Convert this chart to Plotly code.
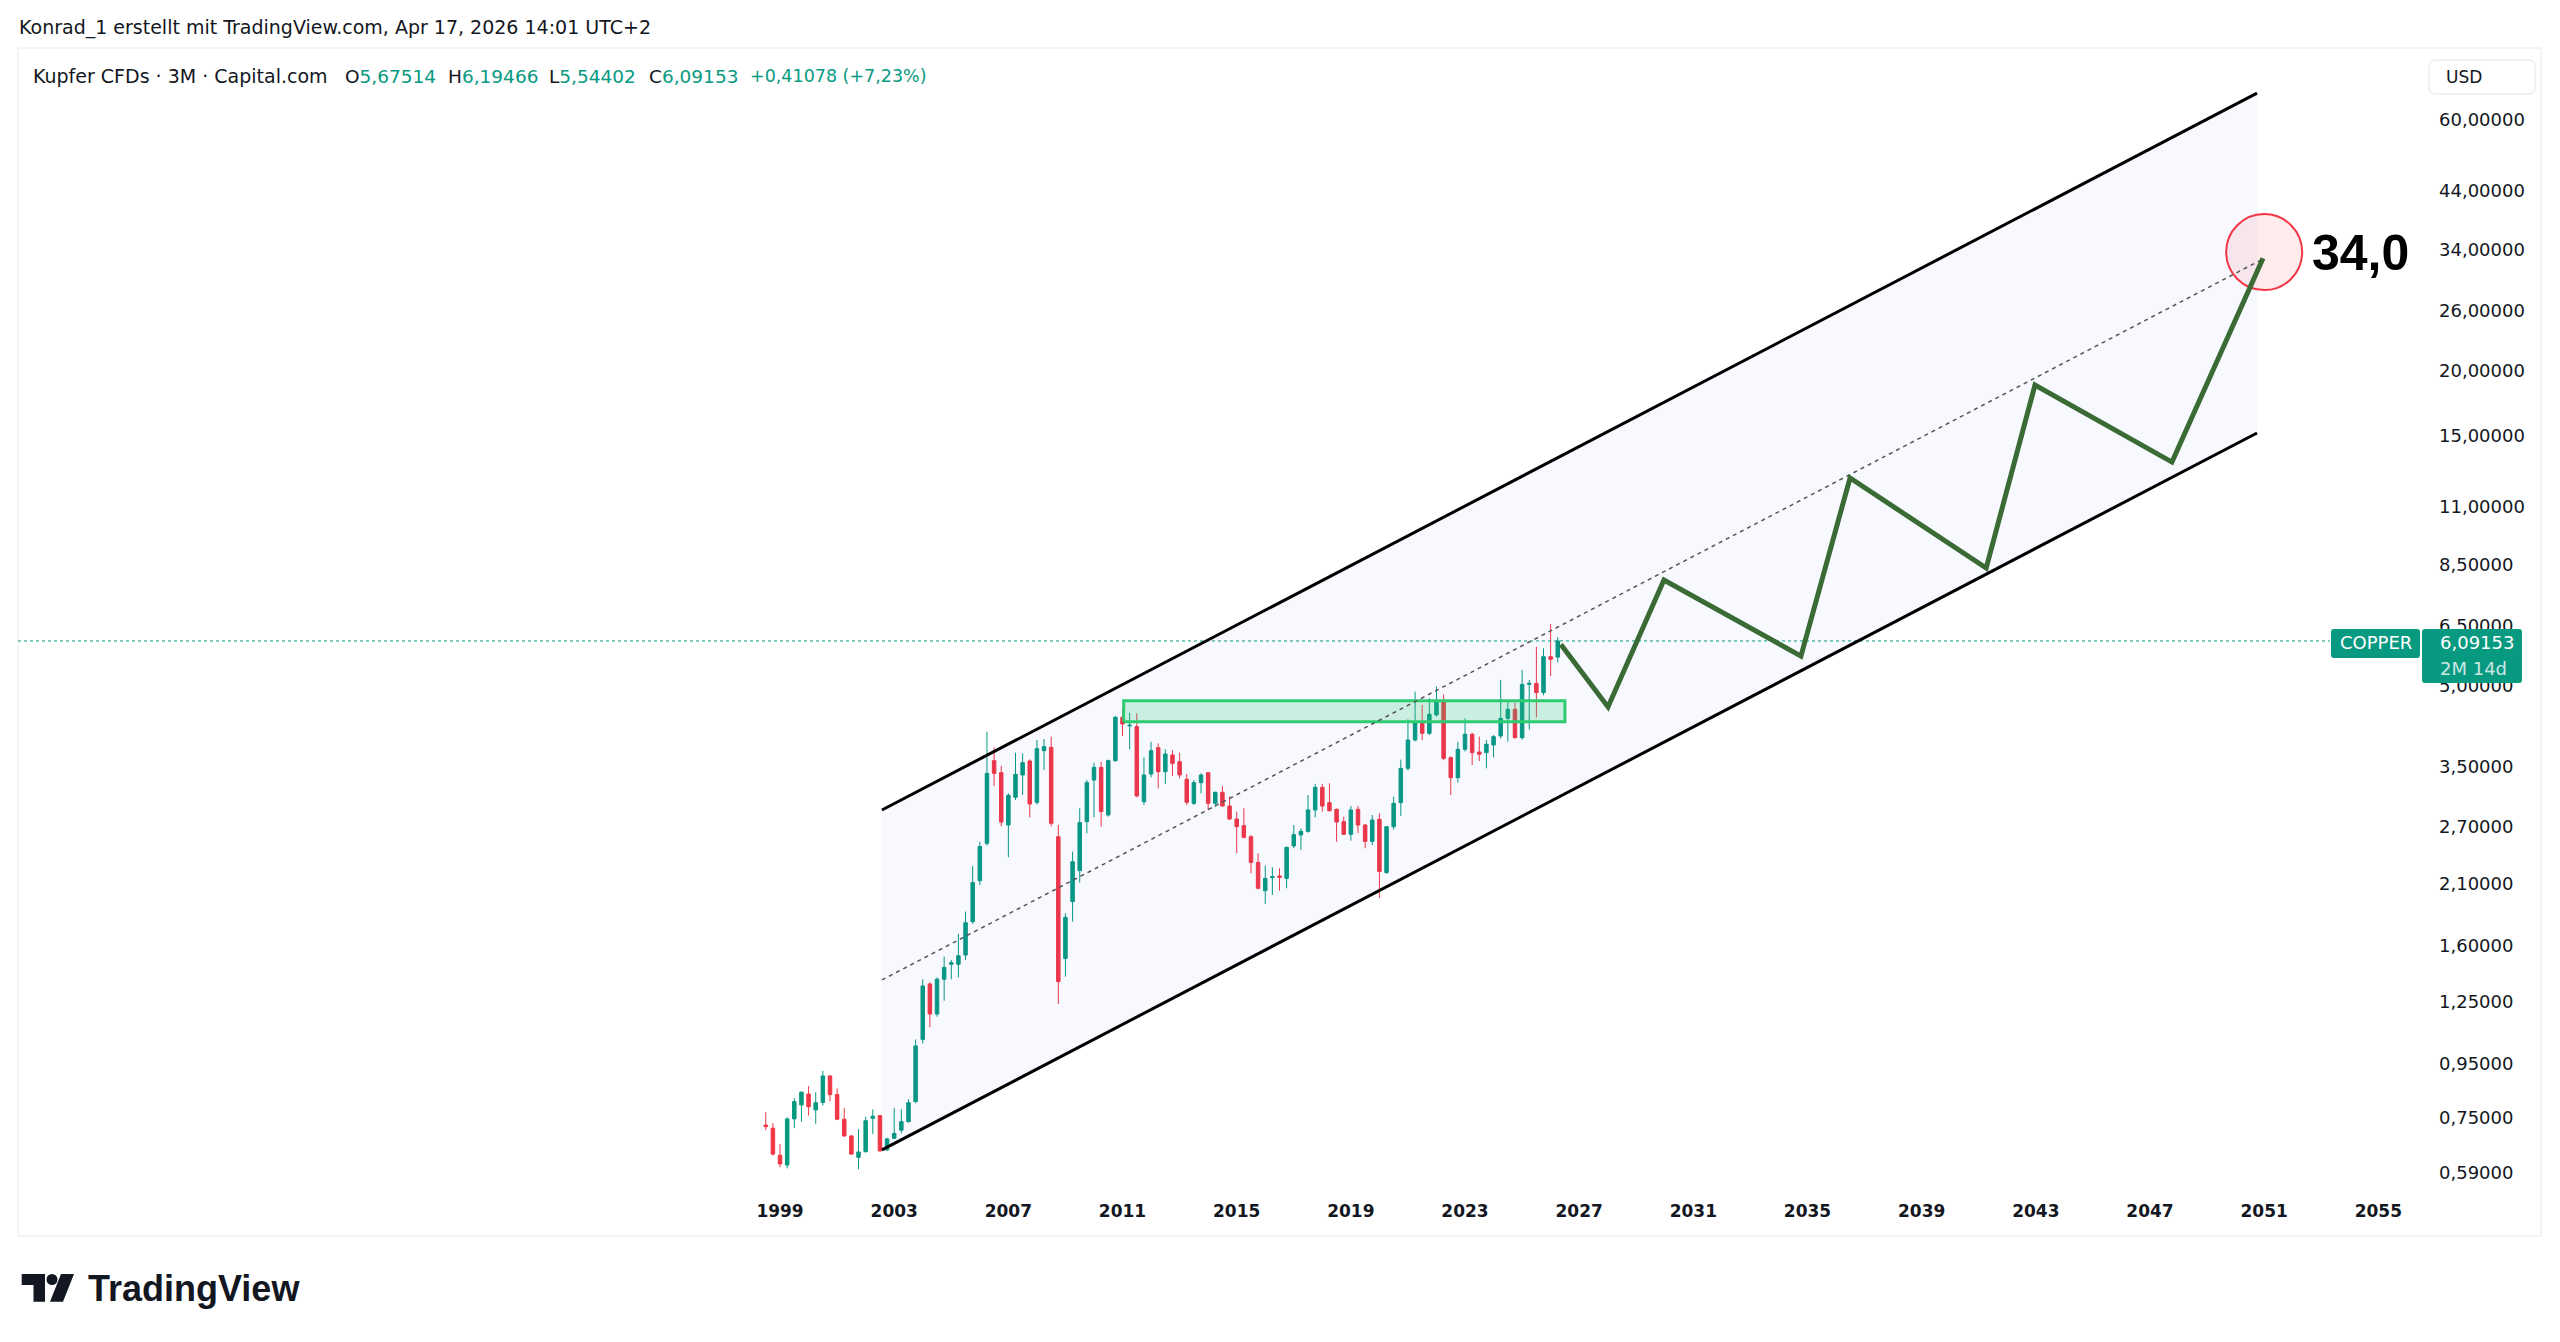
import plotly.graph_objects as go
import math

W, H = 2560, 1342

# ---------------- data (quarterly candles, Kupfer CFDs, 3M) ----------------
FIRST_QUARTER = 1998.5          # Q3 1998
QUARTER_STEP = 0.25
OPEN = [0.727, 0.717, 0.637, 0.610, 0.747, 0.794, 0.833, 0.777, 0.803, 0.902,
        0.831, 0.746, 0.693, 0.631, 0.647, 0.749, 0.758, 0.652, 0.686, 0.711,
        0.738, 0.806, 1.059, 1.351, 1.184, 1.379, 1.473, 1.473, 1.534, 1.776,
        2.127, 2.505, 3.601, 3.416, 2.715, 3.066, 3.382, 3.596, 2.999, 3.763,
        3.818, 2.579, 1.511, 1.940, 2.222, 2.755, 3.308, 3.497, 2.837, 3.601,
        4.357, 4.195, 4.182, 3.008, 3.396, 3.813, 3.431, 3.692, 3.585, 3.318,
        2.986, 3.270, 3.416, 2.986, 3.134, 2.951, 2.787, 2.707, 2.579, 2.304,
        2.035, 2.154, 2.170, 2.148, 2.476, 2.598, 2.640, 2.900, 3.203, 2.995,
        2.908, 2.755, 2.606, 2.908, 2.715, 2.526, 2.783, 2.203, 2.695, 2.995,
        3.482, 3.943, 4.256, 4.061, 4.402, 4.680, 3.649, 3.342, 3.785, 4.043,
        3.741, 3.730, 3.858, 4.014, 4.336, 4.512, 3.984, 5.034, 5.056, 4.855,
        5.685, 5.67514]
HIGH = [0.769, 0.733, 0.669, 0.752, 0.818, 0.842, 0.863, 0.840, 0.922, 0.905,
        0.854, 0.783, 0.696, 0.714, 0.754, 0.779, 0.759, 0.688, 0.783, 0.779,
        0.814, 1.059, 1.379, 1.360, 1.391, 1.523, 1.501, 1.683, 1.856, 2.268,
        2.522, 4.090, 3.818, 3.518, 3.120, 3.730, 3.719, 3.622, 3.943, 3.960,
        4.001, 2.715, 1.842, 2.415, 2.922, 3.308, 3.569, 3.585, 3.617, 4.383,
        4.532, 4.445, 4.432, 3.654, 3.914, 3.886, 3.785, 3.770, 3.730, 3.396,
        3.308, 3.406, 3.420, 3.143, 3.222, 3.075, 2.879, 2.922, 2.598, 2.398,
        2.272, 2.255, 2.245, 2.470, 2.715, 2.675, 3.097, 3.251, 3.251, 3.260,
        2.920, 2.816, 2.951, 2.951, 2.727, 2.837, 2.858, 2.700, 3.075, 3.617,
        4.319, 4.875, 4.599, 4.735, 4.984, 4.818, 3.670, 3.914, 4.336, 4.070,
        4.002, 3.943, 4.030, 5.132, 4.699, 4.646, 5.363, 5.132, 5.941, 5.898,
        6.562, 6.19466]
LOW = [0.711, 0.636, 0.604, 0.601, 0.717, 0.738, 0.758, 0.731, 0.792, 0.807,
       0.743, 0.691, 0.638, 0.599, 0.644, 0.699, 0.647, 0.649, 0.684, 0.701,
       0.735, 0.800, 1.040, 1.117, 1.170, 1.255, 1.379, 1.391, 1.501, 1.760,
       2.087, 2.480, 3.222, 2.700, 2.356, 3.030, 3.097, 2.808, 2.970, 3.457,
       2.700, 1.237, 1.395, 1.776, 2.108, 2.617, 2.808, 2.695, 2.816, 3.585,
       4.013, 3.785, 3.066, 2.964, 3.347, 3.189, 3.251, 3.367, 3.332, 2.964,
       2.964, 3.120, 2.900, 2.943, 2.943, 2.775, 2.398, 2.560, 2.196, 2.047,
       1.920, 1.997, 2.035, 2.056, 2.451, 2.433, 2.625, 2.808, 2.879, 2.879,
       2.522, 2.598, 2.534, 2.620, 2.451, 2.487, 1.968, 2.190, 2.660, 2.825,
       3.450, 3.920, 3.943, 4.030, 4.370, 3.610, 3.097, 3.270, 3.750, 3.533,
       3.596, 3.482, 3.654, 3.970, 3.914, 3.970, 3.950, 4.125, 4.357, 4.800,
       5.223, 5.54402]
CLOSE = [0.722, 0.640, 0.613, 0.747, 0.806, 0.840, 0.788, 0.802, 0.902, 0.831,
         0.746, 0.693, 0.640, 0.646, 0.741, 0.756, 0.649, 0.684, 0.701, 0.738,
         0.802, 1.029, 1.339, 1.184, 1.379, 1.453, 1.483, 1.529, 1.768, 2.108,
         2.470, 3.406, 3.406, 2.751, 3.093, 3.391, 3.569, 2.977, 3.796, 3.830,
         2.735, 1.365, 1.810, 2.311, 2.743, 3.270, 3.497, 2.879, 3.601, 4.357,
         4.232, 4.207, 3.084, 3.382, 3.763, 3.431, 3.708, 3.559, 3.382, 2.999,
         3.270, 3.382, 2.986, 3.134, 2.951, 2.787, 2.695, 2.572, 2.304, 2.056,
         2.148, 2.164, 2.157, 2.461, 2.602, 2.640, 2.900, 3.203, 2.951, 2.891,
         2.751, 2.606, 2.900, 2.715, 2.526, 2.775, 2.213, 2.695, 2.986, 3.482,
         3.943, 4.256, 4.061, 4.415, 4.680, 3.638, 3.342, 3.785, 4.043, 3.730,
         3.703, 3.870, 4.002, 4.336, 4.512, 3.984, 5.034, 5.056, 4.855, 5.685,
         5.619, 6.09153]

PRICE_TICKS = [0.59, 0.75, 0.95, 1.25, 1.6, 2.1, 2.7, 3.5, 5.0, 6.5, 8.5,
               11, 15, 20, 26, 34, 44, 60]
PRICE_TICK_TEXT = ["0,59000", "0,75000", "0,95000", "1,25000", "1,60000",
                   "2,10000", "2,70000", "3,50000", "5,00000", "6,50000",
                   "8,50000", "11,00000", "15,00000", "20,00000", "26,00000",
                   "34,00000", "44,00000", "60,00000"]
YEAR_TICKS = [1999, 2003, 2007, 2011, 2015, 2019, 2023, 2027, 2031, 2035,
              2039, 2043, 2047, 2051, 2055]
YEAR_TICK_TEXT = ["1999", "2003", "2007", "2011", "2015", "2019", "2023",
                  "2027", "2031", "2035", "2039", "2043", "2047", "2051", "2055"]

# drawings
CHANNEL_X = [2002.57, 2050.75]
CHANNEL_UPPER = [2.90, 67.5]
CHANNEL_LOWER = [0.652, 15.18]
MID_X = [2002.57, 2050.96]
MID_Y = [1.375, 32.6]
ZONE_X = [2011.04, 2026.5]
ZONE_Y = [4.272, 4.686]
PATH_X = [2026.36, 2028.01, 2029.97, 2034.77, 2036.49, 2041.26, 2042.97, 2047.77, 2050.96]
PATH_Y = [6.0, 4.56, 7.96, 5.70, 12.46, 8.39, 18.74, 13.36, 32.7]
TARGET_X = 2051.0
TARGET_Y = 33.6
TARGET_LABEL = "34,0"
PRICE_LINE_END = 2053.3

SYMBOL = "Kupfer CFDs · 3M · Capital.com"
OHLC_TEXT = ["5,67514", "6,19466", "5,54402", "6,09153"]
CHANGE_TEXT = "+0,41078 (+7,23%)"
HEADER = "Konrad_1 erstellt mit TradingView.com, Apr 17, 2026 14:01 UTC+2"

# ---------------- styles / layout ----------------
GREEN = "#089981"
RED = "#f23645"
TXT = "#131722"
FONT = "DejaVu Sans"

X_RANGE = [1972.30, 2056.53]
Y_RANGE = [-0.26609, 1.91354]


def px(x):
    return x / W


def py(y):
    return 1 - y / H


xq = [FIRST_QUARTER + QUARTER_STEP * i for i in range(len(OPEN))]

fig = go.Figure()

# channel fill (parallelogram)
fig.add_trace(go.Scatter(
    x=[CHANNEL_X[0], CHANNEL_X[1], CHANNEL_X[1], CHANNEL_X[0], CHANNEL_X[0]],
    y=[CHANNEL_UPPER[0], CHANNEL_UPPER[1], CHANNEL_LOWER[1], CHANNEL_LOWER[0], CHANNEL_UPPER[0]],
    fill="toself", fillcolor="rgba(41,98,255,0.035)", mode="none",
    hoverinfo="skip", showlegend=False))

# support zone
fig.add_trace(go.Scatter(
    x=[ZONE_X[0], ZONE_X[1], ZONE_X[1], ZONE_X[0], ZONE_X[0]],
    y=[ZONE_Y[0], ZONE_Y[0], ZONE_Y[1], ZONE_Y[1], ZONE_Y[0]],
    fill="toself", fillcolor="rgba(46,204,113,0.22)", mode="lines",
    line=dict(color="#2ecc71", width=3), hoverinfo="skip", showlegend=False))

# last price dotted line
fig.add_trace(go.Scatter(
    x=[X_RANGE[0], PRICE_LINE_END], y=[CLOSE[-1], CLOSE[-1]], mode="lines",
    line=dict(color=GREEN, width=1, dash="dot"), hoverinfo="skip", showlegend=False))

# candles
fig.add_trace(go.Candlestick(
    x=xq, open=OPEN, high=HIGH, low=LOW, close=CLOSE,
    increasing=dict(line=dict(color=GREEN, width=1), fillcolor=GREEN),
    decreasing=dict(line=dict(color=RED, width=1), fillcolor=RED),
    whiskerwidth=0, showlegend=False, hoverinfo="skip"))

# target circle
fig.add_trace(go.Scatter(
    x=[TARGET_X], y=[TARGET_Y], mode="markers",
    marker=dict(size=76, color="rgba(242,54,69,0.10)", line=dict(color=RED, width=2)),
    hoverinfo="skip", showlegend=False))

# mid dashed line
fig.add_trace(go.Scatter(
    x=MID_X, y=MID_Y, mode="lines",
    line=dict(color="#555555", width=1.5, dash="4px,4px"), hoverinfo="skip", showlegend=False))

# channel borders
for ys in (CHANNEL_UPPER, CHANNEL_LOWER):
    fig.add_trace(go.Scatter(
        x=CHANNEL_X, y=ys, mode="lines", line=dict(color="#000000", width=3),
        hoverinfo="skip", showlegend=False))

# projected path
fig.add_trace(go.Scatter(
    x=PATH_X, y=PATH_Y, mode="lines", line=dict(color="#3a6b35", width=5),
    hoverinfo="skip", showlegend=False))

# ---------------- shapes ----------------
shapes = []
# pane border
shapes.append(dict(type="rect", xref="paper", yref="paper",
                   x0=px(18), x1=px(2541), y0=py(1236), y1=py(48),
                   line=dict(color="#e6e8ee", width=1), layer="below"))


def rounded(x0, y0, x1, y1, r):
    return (f"M {px(x0 + r)} {py(y0)} L {px(x1 - r)} {py(y0)} Q {px(x1)} {py(y0)} {px(x1)} {py(y0 + r)} "
            f"L {px(x1)} {py(y1 - r)} Q {px(x1)} {py(y1)} {px(x1 - r)} {py(y1)} "
            f"L {px(x0 + r)} {py(y1)} Q {px(x0)} {py(y1)} {px(x0)} {py(y1 - r)} "
            f"L {px(x0)} {py(y0 + r)} Q {px(x0)} {py(y0)} {px(x0 + r)} {py(y0)} Z")


shapes.append(dict(type="path", xref="paper", yref="paper", path=rounded(2429, 60, 2535, 94, 7),
                   line=dict(color="#e0e3eb", width=1), fillcolor="white", layer="above"))
# labels on price axis
shapes.append(dict(type="path", xref="paper", yref="paper", path=rounded(2331, 629, 2420, 658, 3),
                   line=dict(width=0), fillcolor=GREEN, layer="above"))
shapes.append(dict(type="path", xref="paper", yref="paper", path=rounded(2422, 629, 2522, 683, 3),
                   line=dict(width=0), fillcolor=GREEN, layer="above"))

# TradingView logo icon
shapes.append(dict(type="path", xref="paper", yref="paper",
                   path=(f"M {px(21.7)} {py(1274)} L {px(45)} {py(1274)} L {px(45)} {py(1301.7)} "
                         f"L {px(33.5)} {py(1301.7)} L {px(33.5)} {py(1285)} L {px(21.7)} {py(1285)} Z"),
                   fillcolor="#131722", line=dict(width=0)))
shapes.append(dict(type="circle", xref="paper", yref="paper",
                   x0=px(46.5), x1=px(57.5), y0=py(1285), y1=py(1274),
                   fillcolor="#131722", line=dict(width=0)))
shapes.append(dict(type="path", xref="paper", yref="paper",
                   path=(f"M {px(61)} {py(1274)} L {px(74)} {py(1274)} L {px(63)} {py(1301.7)} "
                         f"L {px(50)} {py(1301.7)} Z"),
                   fillcolor="#131722", line=dict(width=0)))

# ---------------- annotations ----------------
ann = []


def text(x, y, s, size=18.5, color=TXT, anchor="left", family=FONT, bold=False):
    if bold:
        s = f"<b>{s}</b>"
    ann.append(dict(x=px(x), y=py(y), xref="paper", yref="paper", text=s, showarrow=False,
                    xanchor=anchor, yanchor="middle",
                    font=dict(family=family, size=size, color=color)))


text(17, 27, HEADER, size=19)
text(31, 76, SYMBOL, size=19)
for lx, letter, val in zip([343, 446, 547, 647], "OHLC", OHLC_TEXT):
    text(lx, 76, f"{letter}<span style='color:{GREEN}'>{val}</span>")
text(748, 76, CHANGE_TEXT, size=17.5, color=GREEN)
text(2464, 77, "USD", size=17, anchor="center")
text(2376, 643, "COPPER", size=18, color="white", anchor="center")
text(2438, 643, "6,09153", size=18, color="white")
text(2438, 668, "2M 14d", size=18, color="rgba(255,255,255,0.8)")
text(2310, 253, TARGET_LABEL, size=50, color="#000000", family="Liberation Sans", bold=True)
text(86, 1288, "TradingView", size=36, color="#131722", family="Liberation Sans", bold=True)

fig.update_layout(
    width=W, height=H, margin=dict(l=0, r=0, t=0, b=0),
    paper_bgcolor="white", plot_bgcolor="white",
    showlegend=False, hovermode=False, dragmode=False,
    shapes=shapes, annotations=ann,
    xaxis=dict(domain=[px(18), px(2422)], range=X_RANGE, type="linear",
               showgrid=False, zeroline=False, showline=False,
               tickmode="array", tickvals=YEAR_TICKS,
               ticktext=[f"<b>{t}</b>" for t in YEAR_TICK_TEXT],
               tickfont=dict(family=FONT, size=17, color=TXT), ticks="",
               ticklabelstandoff=7, rangeslider=dict(visible=False), fixedrange=True),
    yaxis=dict(domain=[py(1192), py(49)], range=Y_RANGE, type="log", side="right",
               showgrid=False, zeroline=False, showline=False,
               tickmode="array", tickvals=PRICE_TICKS, ticktext=PRICE_TICK_TEXT,
               tickfont=dict(family=FONT, size=18, color=TXT), ticks="",
               ticklabelstandoff=16, fixedrange=True),
)

fig.write_html("out.html")
